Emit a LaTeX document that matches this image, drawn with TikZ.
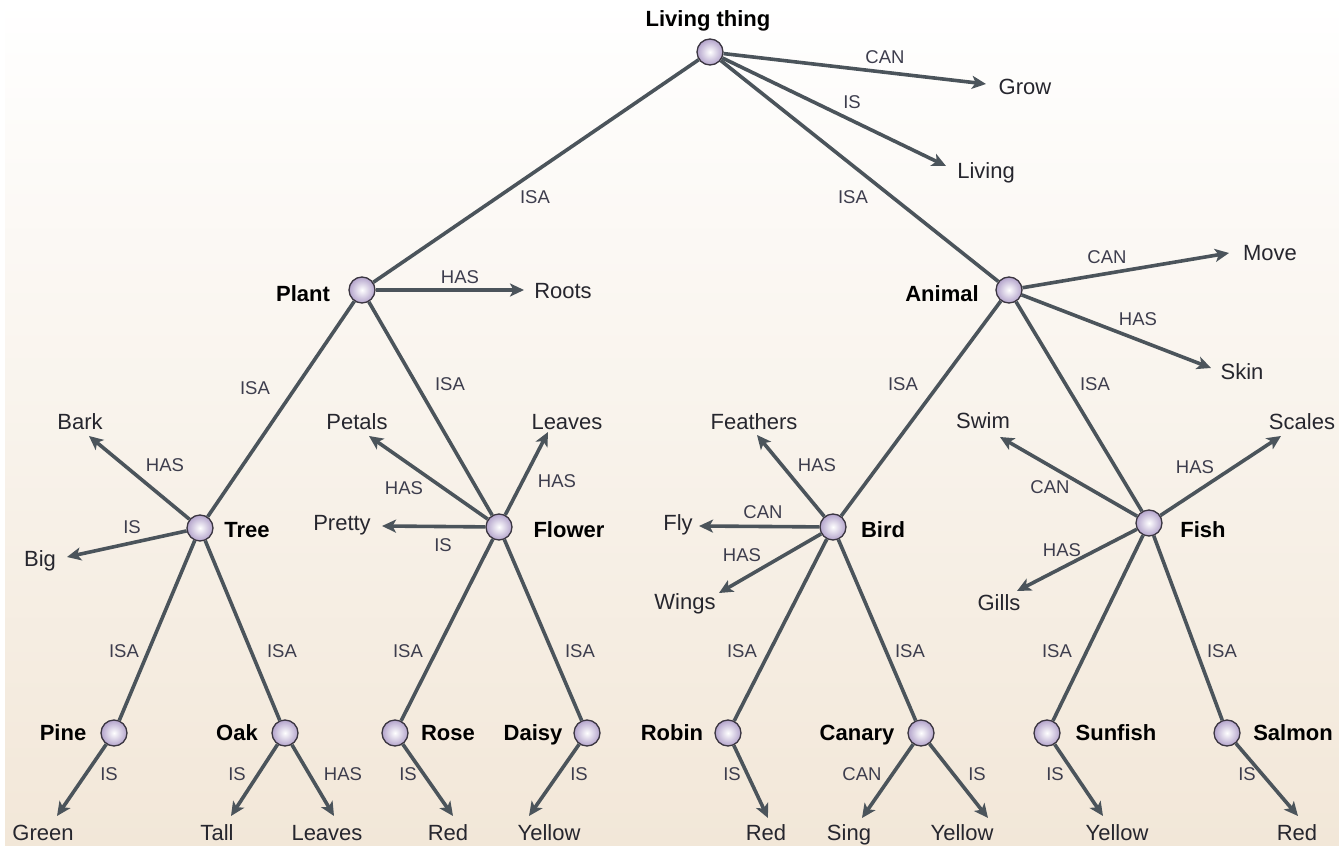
\documentclass[tikz,border=0pt]{standalone}
\usepackage{fontspec}
\setmainfont{Liberation Sans}
\usetikzlibrary{arrows.meta}
\definecolor{bgc}{HTML}{F2E7D8}
\definecolor{linec}{HTML}{4B545B}
\definecolor{circfill}{HTML}{B3A3CB}
\definecolor{circedge}{HTML}{3A3540}
\definecolor{labc}{HTML}{3D3D4D}
\definecolor{txtc}{HTML}{26262E}
\begin{document}
\begin{tikzpicture}[x=1pt,y=-1pt,
 concept/.style={circle, minimum size=26pt, inner sep=0pt, draw=circedge, line width=1.3pt, inner color=white, outer color=circfill},
 title/.style={font=\fontsize{22}{24}\selectfont\bfseries, text=black, inner sep=0pt, text height=16pt, text depth=0pt},
 prop/.style={font=\fontsize{22}{24}\selectfont, text=txtc, inner sep=0pt, text height=16pt, text depth=0pt},
 rel/.style={font=\fontsize{18.5}{20}\selectfont, text=labc, inner sep=0pt, text height=13.3pt, text depth=0pt},
 link/.style={draw=linec, line width=3.6pt},
 arr/.style={link, -{Stealth[length=14pt,width=13pt,inset=3.5pt]}},
]
\useasboundingbox (0,0) rectangle (1339,851);
\fill[top color=white, bottom color=bgc] (5,0) rectangle (1339,845);

% concept circles
\node[concept] (LT) at (710,52) {};
\node[concept] (Plant) at (362,290) {};
\node[concept] (Animal) at (1009,290) {};
\node[concept] (Tree) at (200,528) {};
\node[concept] (Flower) at (499,527) {};
\node[concept] (Bird) at (833,527) {};
\node[concept] (Fish) at (1149,523) {};
\node[concept] (Pine) at (114,733) {};
\node[concept] (Oak) at (285,733) {};
\node[concept] (Rose) at (395,733) {};
\node[concept] (Daisy) at (587,733) {};
\node[concept] (Robin) at (728,733) {};
\node[concept] (Canary) at (921,733) {};
\node[concept] (Sunfish) at (1047,733) {};
\node[concept] (Salmon) at (1227,733) {};

% concept names
\node[title] (nLT) at (708,19) {Living thing};
\node[title] (nPlant) at (303,293) {Plant};
\node[title] (nAnimal) at (942,293) {Animal};
\node[title] (nTree) at (247,529) {Tree};
\node[title] (nFlower) at (569,529) {Flower};
\node[title] (nBird) at (883,529) {Bird};
\node[title] (nFish) at (1203,529) {Fish};
\node[title] (nPine) at (63,732) {Pine};
\node[title] (nOak) at (237,732) {Oak};
\node[title] (nRose) at (448,732) {Rose};
\node[title] (nDaisy) at (533,732) {Daisy};
\node[title] (nRobin) at (672,732) {Robin};
\node[title] (nCanary) at (857,732) {Canary};
\node[title] (nSunfish) at (1116,732) {Sunfish};
\node[title] (nSalmon) at (1293,732) {Salmon};

% property texts
\node[prop] (pGrow) at (1025,87) {Grow};
\node[prop] (pLiving) at (986,170) {Living};
\node[prop] (pRoots) at (563,290) {Roots};
\node[prop] (pMove) at (1270,252) {Move};
\node[prop] (pSkin) at (1242,371) {Skin};
\node[prop] (pBark) at (80,421) {Bark};
\node[prop] (pBig) at (40,558) {Big};
\node[prop] (pPetals) at (357,421) {Petals};
\node[prop] (pLeavesF) at (567,421) {Leaves};
\node[prop] (pPretty) at (342,522) {Pretty};
\node[prop] (pFeathers) at (754,421) {Feathers};
\node[prop] (pFly) at (678,522) {Fly};
\node[prop] (pWings) at (685,601) {Wings};
\node[prop] (pSwim) at (983,420) {Swim};
\node[prop] (pScales) at (1302,421) {Scales};
\node[prop] (pGills) at (999,602) {Gills};
\node[prop] (pGreen) at (43,832) {Green};
\node[prop] (pTall) at (217,832) {Tall};
\node[prop] (pLeavesO) at (327,832) {Leaves};
\node[prop] (pRed1) at (448,832) {Red};
\node[prop] (pYellow1) at (549,832) {Yellow};
\node[prop] (pRed2) at (766,832) {Red};
\node[prop] (pSing) at (849,832) {Sing};
\node[prop] (pYellow2) at (962,832) {Yellow};
\node[prop] (pYellow3) at (1117,832) {Yellow};
\node[prop] (pRed3) at (1297,832) {Red};

% arrow tip coordinates
\coordinate (tGrow) at (986,84);
\coordinate (tLiving) at (946,166);
\coordinate (tRoots) at (524,290);
\coordinate (tMove) at (1229,253);
\coordinate (tSkin) at (1211,368);
\coordinate (tBark) at (89,436);
\coordinate (tBig) at (67,557);
\coordinate (tPetals) at (369,436);
\coordinate (tLeavesF) at (548,432);
\coordinate (tPretty) at (382,526);
\coordinate (tFeathers) at (757,435);
\coordinate (tFly) at (699,526);
\coordinate (tWings) at (719,593);
\coordinate (tSwim) at (1000,437);
\coordinate (tScales) at (1281,436);
\coordinate (tGills) at (1017,591);
\coordinate (tGreen) at (57,816);
\coordinate (tTall) at (231,816);
\coordinate (tLeavesO) at (334,816);
\coordinate (tRed1) at (453,816);
\coordinate (tYellow1) at (529,816);
\coordinate (tRed2) at (768,818);
\coordinate (tSing) at (862,818);
\coordinate (tYellow2) at (988,818);
\coordinate (tYellow3) at (1103,816);
\coordinate (tRed3) at (1298,816);

% ISA links
\draw[link] (LT) -- (Plant);
\draw[link] (LT) -- (Animal);
\draw[link] (Plant) -- (Tree);
\draw[link] (Plant) -- (Flower);
\draw[link] (Animal) -- (Bird);
\draw[link] (Animal) -- (Fish);
\draw[link] (Tree) -- (Pine);
\draw[link] (Tree) -- (Oak);
\draw[link] (Flower) -- (Rose);
\draw[link] (Flower) -- (Daisy);
\draw[link] (Bird) -- (Robin);
\draw[link] (Bird) -- (Canary);
\draw[link] (Fish) -- (Sunfish);
\draw[link] (Fish) -- (Salmon);

% property arrows
\draw[arr] (LT) -- (tGrow);
\draw[arr] (LT) -- (tLiving);
\draw[arr] (Plant) -- (tRoots);
\draw[arr] (Animal) -- (tMove);
\draw[arr] (Animal) -- (tSkin);
\draw[arr] (Tree) -- (tBark);
\draw[arr] (Tree) -- (tBig);
\draw[arr] (Flower) -- (tPetals);
\draw[arr] (Flower) -- (tLeavesF);
\draw[arr] (Flower) -- (tPretty);
\draw[arr] (Bird) -- (tFeathers);
\draw[arr] (Bird) -- (tFly);
\draw[arr] (Bird) -- (tWings);
\draw[arr] (Fish) -- (tSwim);
\draw[arr] (Fish) -- (tScales);
\draw[arr] (Fish) -- (tGills);
\draw[arr] (Pine) -- (tGreen);
\draw[arr] (Oak) -- (tTall);
\draw[arr] (Oak) -- (tLeavesO);
\draw[arr] (Rose) -- (tRed1);
\draw[arr] (Daisy) -- (tYellow1);
\draw[arr] (Robin) -- (tRed2);
\draw[arr] (Canary) -- (tSing);
\draw[arr] (Canary) -- (tYellow2);
\draw[arr] (Sunfish) -- (tYellow3);
\draw[arr] (Salmon) -- (tRed3);

% relation labels
\node[rel] (r1) at (885,57) {CAN};
\node[rel] (r2) at (852,102) {IS};
\node[rel] (r3) at (535,197) {ISA};
\node[rel] (r4) at (853,197) {ISA};
\node[rel] (r5) at (460,277) {HAS};
\node[rel] (r6) at (1107,257) {CAN};
\node[rel] (r7) at (1138,319) {HAS};
\node[rel] (r8) at (255,388) {ISA};
\node[rel] (r9) at (450,384) {ISA};
\node[rel] (r10) at (903,384) {ISA};
\node[rel] (r11) at (1095,384) {ISA};
\node[rel] (r12) at (165,465) {HAS};
\node[rel] (r13) at (132,527) {IS};
\node[rel] (r14) at (404,488) {HAS};
\node[rel] (r15) at (557,481) {HAS};
\node[rel] (r16) at (443,545) {IS};
\node[rel] (r17) at (817,465) {HAS};
\node[rel] (r18) at (763,512) {CAN};
\node[rel] (r19) at (742,555) {HAS};
\node[rel] (r20) at (1050,487) {CAN};
\node[rel] (r21) at (1195,467) {HAS};
\node[rel] (r22) at (1062,550) {HAS};
\node[rel] (r23) at (124,651) {ISA};
\node[rel] (r24) at (282,651) {ISA};
\node[rel] (r25) at (408,651) {ISA};
\node[rel] (r26) at (580,651) {ISA};
\node[rel] (r27) at (742,651) {ISA};
\node[rel] (r28) at (910,651) {ISA};
\node[rel] (r29) at (1057,651) {ISA};
\node[rel] (r30) at (1222,651) {ISA};
\node[rel] (r31) at (109,774) {IS};
\node[rel] (r32) at (237,774) {IS};
\node[rel] (r33) at (343,774) {HAS};
\node[rel] (r34) at (408,774) {IS};
\node[rel] (r35) at (579,774) {IS};
\node[rel] (r36) at (732,774) {IS};
\node[rel] (r37) at (862,774) {CAN};
\node[rel] (r38) at (977,774) {IS};
\node[rel] (r39) at (1055,774) {IS};
\node[rel] (r40) at (1247,774) {IS};
\end{tikzpicture}
\end{document}
